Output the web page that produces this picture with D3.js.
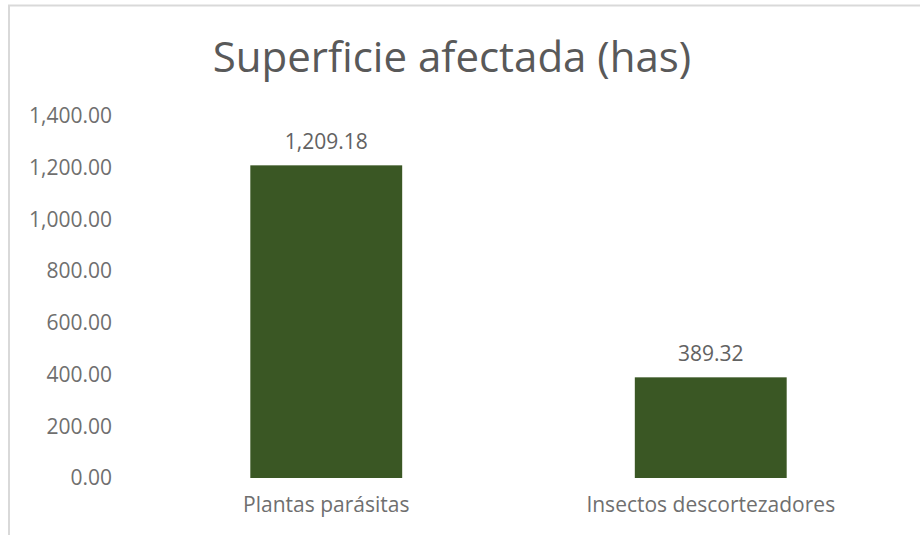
<!DOCTYPE html>
<html>
<head>
<meta charset="utf-8">
<script src="https://cdn.jsdelivr.net/npm/d3@7"></script>
<style>
  body { margin: 0; background: #fff; }
  svg { display: block; font-family: "Open Sans", "Noto Sans", sans-serif; }
</style>
</head>
<body>
<svg id="chart" width="920" height="535"></svg>
<script>
const categories = ['Plantas parásitas', 'Insectos descortezadores']
const values = [1209.18, 389.32]
const yTicks = [0, 200, 400, 600, 800, 1000, 1200, 1400]
const title = 'Superficie afectada (has)'

const width = 920
const height = 535

const svg = d3.select('#chart')

// chart frame (cut off on the right and bottom)
svg.append('rect')
  .attr('x', 9)
  .attr('y', 5.5)
  .attr('width', width + 10)
  .attr('height', height + 10)
  .attr('fill', 'none')
  .attr('stroke', '#d9d9d9')
  .attr('stroke-width', 2)

const fmt = d3.format(',.2f')

const x = d3.scaleBand()
  .domain(categories)
  .range([134, 903])
  .paddingInner(0.605)
  .paddingOuter(0.3025)

const y = d3.scaleLinear()
  .domain([0, 1400])
  .range([478, 116])

svg.append('text')
  .attr('x', 452)
  .attr('y', 72)
  .attr('text-anchor', 'middle')
  .attr('fill', '#595959')
  .attr('font-size', 42)
  .text(title)

const yAxis = svg.append('g')
  .attr('transform', 'translate(117,0)')
  .call(d3.axisLeft(y).tickValues(yTicks).tickFormat(fmt).tickSize(0).tickPadding(5))
yAxis.select('.domain').remove()
yAxis.selectAll('text')
  .attr('fill', '#6f6f6f')
  .attr('font-size', 21)
  .attr('font-family', '"Open Sans", sans-serif')

svg.selectAll('rect.bar')
  .data(values)
  .enter().append('rect')
  .attr('class', 'bar')
  .attr('x', (d, i) => x(categories[i]))
  .attr('y', d => y(d))
  .attr('width', x.bandwidth())
  .attr('height', d => y(0) - y(d))
  .attr('fill', '#3a5724')

svg.selectAll('text.label')
  .data(values)
  .enter().append('text')
  .attr('class', 'label')
  .attr('x', (d, i) => x(categories[i]) + x.bandwidth() / 2)
  .attr('y', d => y(d) - 16)
  .attr('text-anchor', 'middle')
  .attr('fill', '#626262')
  .attr('font-size', 21)
  .text(d => fmt(d))

const xAxis = svg.append('g')
  .attr('transform', `translate(0,${y(0)})`)
  .call(d3.axisBottom(x).tickSize(0).tickPadding(19))
xAxis.select('.domain').remove()
xAxis.selectAll('text')
  .attr('fill', '#6f6f6f')
  .attr('font-size', 21)
  .attr('font-family', '"Open Sans", sans-serif')
</script>
</body>
</html>
